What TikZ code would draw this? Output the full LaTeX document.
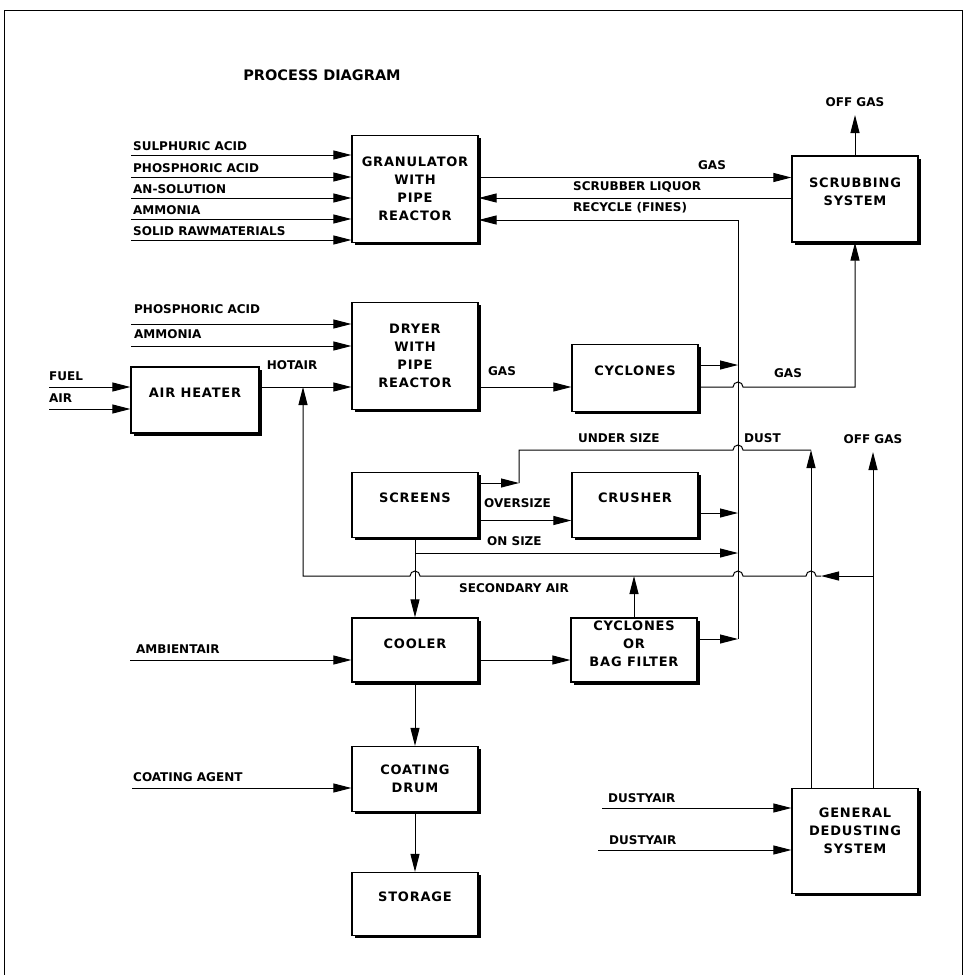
\documentclass[tikz,border=0pt]{standalone}
\usepackage{fontspec}
\setmainfont{DejaVu Sans}
\usepackage{tikz}
\usetikzlibrary{arrows.meta, positioning, shadows}
\tikzset{%
	unittext/.style={
		align=center,
		font=\fontsize{13}{18}\selectfont\bfseries\addfontfeatures{LetterSpace=6}
	},
	unitbox/.style={
		unittext,
		draw,
		line width=1.2pt,
		fill=white,
		minimum width=126pt,
		drop shadow={fill=black, opacity=1, shadow xshift=2.5pt, shadow yshift=-2.5pt}
	},
	stream/.style={
		inner sep=0pt,
		font=\fontsize{12}{14}\selectfont\bfseries
	},
	flow/.style={
		line width=1pt,
		-{Triangle[length=18pt, width=9pt]}
	},
	pipe/.style={line width=1pt},
}

\begin{document}
\begin{tikzpicture}[x=1pt, y=-1pt]
	% Page and frame
	\fill[white] (0,0) rectangle (967,975);
	\useasboundingbox (0,0) rectangle (967,975);
	\draw[line width=0.8pt] (4,975) -- (4,10) -- (962,10) -- (962,975);
	\node[font=\fontsize{14.5}{16}\selectfont\bfseries] (title) at (322,75) {PROCESS DIAGRAM};

	% Process units
	\node[unitbox, minimum height=107pt] (gran) at (415,189) {GRANULATOR\\WITH\\PIPE\\REACTOR};
	\node[unitbox, minimum height=107pt] (dryer) at (415,356) {DRYER\\WITH\\PIPE\\REACTOR};
	\node[unitbox, minimum width=128pt, minimum height=66pt, text depth=14pt] (heater) at (195,400) {AIR HEATER};
	\node[unitbox, minimum height=67pt, text depth=14pt] (cycl) at (635,378) {CYCLONES};
	\node[unitbox, minimum height=65pt, text depth=14pt] (screens) at (415,505) {SCREENS};
	\node[unitbox, minimum height=65pt, text depth=14pt] (crusher) at (635,505) {CRUSHER};
	\node[unitbox, minimum height=64pt, text depth=12pt] (cooler) at (415,650) {COOLER};
	\node[unitbox, minimum height=64pt] (filter) at (634,650) {};
	\node[unittext] (filter txt) at ([yshift=6pt]filter.center) {CYCLONES\\OR\\BAG FILTER};
	\node[unitbox, minimum height=65pt] (coating) at (415,779) {COATING\\DRUM};
	\node[unitbox, minimum height=63pt, text depth=14pt] (storage) at (415,904) {STORAGE};
	\node[unitbox, minimum height=86pt] (scrub) at (855,199) {};
	\node[unittext] (scrub txt) at ([yshift=7.5pt]scrub.center) {SCRUBBING\\SYSTEM};
	\node[unitbox, minimum height=105pt] (dedust) at (855,841) {};
	\node[unittext] (dedust txt) at ([yshift=10pt]dedust.center) {GENERAL\\DEDUSTING\\SYSTEM};

	% Raw materials to the granulator
	\foreach \idx/\ypos/\txt in {1/155/SULPHURIC ACID, 2/177/PHOSPHORIC ACID, 3/198/AN-SOLUTION, 4/219/AMMONIA, 5/240/SOLID RAWMATERIALS}{
		\coordinate (gin\idx) at (131,\ypos);
		\node[stream, anchor=base west] (gin lab\idx) at ([shift={(2,-5)}]gin\idx) {\txt};
		\draw[flow] (gin\idx) -- (gin\idx -| gran.west);
	}

	% Feeds to the dryer
	\coordinate (din1) at (131,324);
	\coordinate (din2) at (131,346);
	\node[stream, anchor=base west] (din lab1) at ([shift={(3,-11)}]din1) {PHOSPHORIC ACID};
	\node[stream, anchor=base west] (din lab2) at ([shift={(3,-8)}]din2) {AMMONIA};
	\draw[flow] (din1) -- (din1 -| dryer.west);
	\draw[flow] (din2) -- (din2 -| dryer.west);

	% Air heater
	\coordinate (hot) at (303,387);
	\coordinate (fuel) at (49,387);
	\coordinate (air) at (49,409);
	\node[stream, anchor=base west] (fuel lab) at ([shift={(0,-7)}]fuel) {FUEL};
	\node[stream, anchor=base west] (air lab) at ([shift={(0,-7)}]air) {AIR};
	\draw[flow] (fuel) -- (fuel -| heater.west);
	\draw[flow] (air) -- (air -| heater.west);
	\draw[flow] (hot -| heater.east) -- (hot -| dryer.west);
	\node[stream] (hot lab) at (292,365) {HOTAIR};

	% Granulator and scrubbing system
	\coordinate (gas up) at ([yshift=11.5pt]gran.east);
	\coordinate (liquor) at ([yshift=1pt]scrub.west);
	\coordinate (vtop) at (738,220);
	\draw[flow] (gas up) -- (gas up -| scrub.west);
	\draw[flow] (liquor) -- (liquor -| gran.east);
	\node[stream] (gas up lab) at (712,165) {GAS};
	\node[stream, anchor=west] (liquor lab) at (573,187) {SCRUBBER LIQUOR};
	\node[stream, anchor=base west] (recycle lab) at (573,211.5) {RECYCLE (FINES)};
	\coordinate (og top) at (855,115);
	\draw[flow] (scrub.north) -- (og top);
	\node[stream, above=8pt of og top] (og top lab) {OFF GAS};

	% Recycle collector
	\coordinate (filt out) at ([yshift=11pt]filter.east);
	\draw[flow] (filt out -| vtop) -- (vtop) -- (vtop -| gran.east);
	\draw[flow] (filt out) -- (filt out -| vtop);

	% Cyclones
	\draw[flow] (hot -| dryer.east) -- (hot -| cycl.west);
	\node[stream] (dry gas lab) at (502,371) {GAS};
	\coordinate (cyc up) at ([yshift=13pt]cycl.east);
	\draw[flow] (cyc up) -- (cyc up -| vtop);
	\coordinate (hop1) at (hot -| vtop);
	\draw[flow] (hot -| cycl.east) -- ([xshift=-5pt]hop1) arc[start angle=180, end angle=0, radius=5pt] -- (hot -| scrub.south) -- (scrub.south);
	\node[stream] (cyc gas lab) at (788,373) {GAS};

	% Screens and crusher
	\coordinate (under) at ([yshift=22pt]screens.east);
	\coordinate (us turn) at (519,450);
	\coordinate (dust top) at (811,450);
	\coordinate (hop2) at (us turn -| vtop);
	\draw[flow] (under) -- (under -| us turn);
	\draw[pipe] (under -| us turn) -- (us turn) -- ([xshift=-5pt]hop2) arc[start angle=180, end angle=0, radius=5pt] -- (dust top);
	\draw[flow] (dust top |- dedust.north) -- (dust top);
	\node[stream, anchor=west] (under lab) at (578,438) {UNDER SIZE};
	\node[stream, anchor=west] (dust lab) at (744,438) {DUST};

	\coordinate (over) at ([yshift=-15.5pt]screens.east);
	\draw[flow] (over) -- (over -| crusher.west);
	\node[stream, anchor=west] (over lab) at (484,503) {OVERSIZE};
	\coordinate (crush out) at ([yshift=-8pt]crusher.east);
	\draw[flow] (crush out) -- (crush out -| vtop);

	\draw[flow] (screens.south) -- (cooler.north);
	\coordinate (on size) at (415,553);
	\draw[flow] (on size) -- (on size -| vtop);
	\node[stream, anchor=west] (on lab) at (487,541) {ON SIZE};

	% Off gas and secondary air
	\coordinate (og low) at (873,452);
	\draw[flow] (og low |- dedust.north) -- (og low);
	\node[stream, above=8pt of og low] (og low lab) {OFF GAS};
	\coordinate (sa) at (873,576);
	\coordinate (sa tip) at (821,576);
	\coordinate (hop3) at (sa -| dust top);
	\coordinate (hop4) at (sa -| vtop);
	\coordinate (hop5) at (sa -| on size);
	\draw[flow] (sa) -- (sa tip);
	\draw[flow] (sa tip) -- ([xshift=5pt]hop3) arc[start angle=0, end angle=180, radius=5pt] -- ([xshift=5pt]hop4) arc[start angle=0, end angle=180, radius=5pt] -- ([xshift=5pt]hop5) arc[start angle=0, end angle=180, radius=5pt] -- (sa -| hot) -- (hot);
	\node[stream, anchor=west] (sa lab) at (459,588) {SECONDARY AIR};
	\draw[flow] (filter.north) -- (filter.north |- sa);

	% Cooler, coating and storage
	\coordinate (amb) at (130,660);
	\draw[flow] (amb) -- (amb -| cooler.west);
	\node[stream, anchor=base west] (amb lab) at ([shift={(6,-7)}]amb) {AMBIENTAIR};
	\coordinate (cool out) at ([yshift=-10pt]cooler.east);
	\draw[flow] (cool out) -- (cool out -| filter.west);
	\draw[flow] (cooler.south) -- (coating.north);
	\draw[flow] (coating.south) -- (storage.north);
	\coordinate (agent) at (132,788);
	\draw[flow] (agent) -- (agent -| coating.west);
	\node[stream, anchor=base west] (agent lab) at ([shift={(1,-7)}]agent) {COATING AGENT};

	% Dusty air to general dedusting
	\coordinate (dusty1) at (602,808);
	\coordinate (dusty2) at (598,850);
	\draw[flow] (dusty1) -- (dusty1 -| dedust.west);
	\draw[flow] (dusty2) -- (dusty2 -| dedust.west);
	\node[stream, anchor=base west] (dusty lab1) at ([shift={(6,-6)}]dusty1) {DUSTYAIR};
	\node[stream, anchor=base west] (dusty lab2) at ([shift={(11,-6)}]dusty2) {DUSTYAIR};
\end{tikzpicture}
\end{document}
